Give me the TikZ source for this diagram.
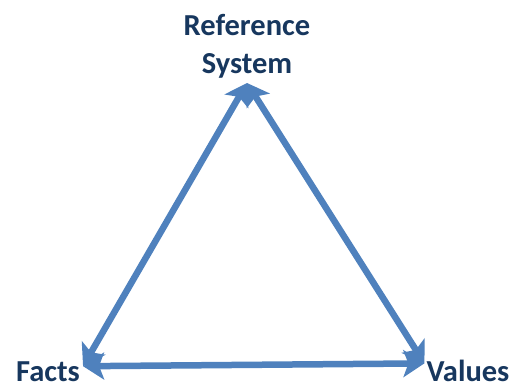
\documentclass[tikz,border=0pt]{standalone}
\usepackage{fontspec}
\setmainfont{Carlito}
\usepackage{xcolor}
\usepackage{tikz}
\usetikzlibrary{positioning,arrows.meta,calc}
\definecolor{arrowblue}{RGB}{79,129,189}
\definecolor{darknavy}{RGB}{23,55,94}

\begin{document}
\begin{tikzpicture}[
  x=1pt, y=1pt,
  every node/.style={font=\fontsize{30.5}{38}\selectfont\bfseries, text=darknavy, inner sep=0pt},
  label/.style={align=center},
  link/.style={{Stealth[length=21pt,width=27pt,inset=5pt]}-{Stealth[length=21pt,width=27pt,inset=5pt]},
               line width=6.5pt, color=arrowblue}
]
  \useasboundingbox (0,0) rectangle (514,386);

  \node[label, anchor=base] (ref) at (247,312) {Reference\\System};
  \node[label, anchor=base] (facts) at (48,5) {Facts};
  \node[label, anchor=base] (values) at (468,5) {Values};

  \coordinate (apex) at (247,303);
  \coordinate (left) at ($(facts.east)+(3,5)$);
  \coordinate (right) at ($(values.west)+(-2,7)$);

  \draw[link] (apex) -- (left);
  \draw[link] (apex) -- (right);
  \draw[link] (left) -- (right);
\end{tikzpicture}
\end{document}
